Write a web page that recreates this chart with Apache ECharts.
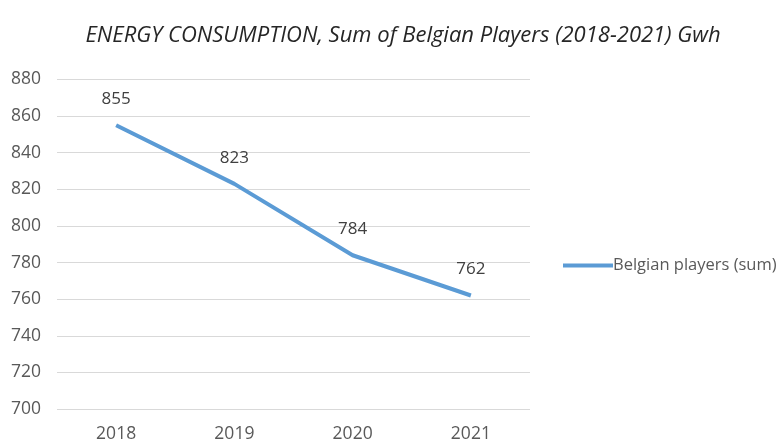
<!DOCTYPE html>
<html><head><meta charset="utf-8">
<script src="https://cdn.jsdelivr.net/npm/echarts@6/dist/echarts.min.js"></script>
<style>html,body{margin:0;padding:0;background:#fff}#c{width:783px;height:443px}</style>
</head><body><div id="c"></div>
<script>
const categories = ['2018', '2019', '2020', '2021'];
const values = [855, 823, 784, 762];
const seriesName = 'Belgian players (sum)';
const titleText = 'ENERGY CONSUMPTION, Sum of Belgian Players (2018-2021) Gwh';

const chart = echarts.init(document.getElementById('c'));
chart.setOption({
  animation: false,
  backgroundColor: '#fff',
  title: {
    text: titleText, left: 398, top: 20, textAlign: 'center',
    textStyle: {fontFamily: 'Open Sans', fontStyle: 'italic', fontWeight: 'normal', fontSize: 22, color: '#262626'}
  },
  legend: {
    data: [seriesName], left: 558, top: 252, itemWidth: 50, itemHeight: 4, itemGap: 0,
    icon: 'rect',
    itemStyle: {color: '#5B9BD5', opacity: 1},
    textStyle: {fontFamily: 'Open Sans', fontSize: 16.5, color: '#595959', padding: [0,0,0,-5]}
  },
  grid: {left: 57, right: 253, top: 79.5, bottom: 33},
  xAxis: {
    type: 'category', data: categories, boundaryGap: true,
    axisLine: {show: false}, axisTick: {show: false},
    axisLabel: {fontFamily: 'Open Sans', fontSize: 17.5, color: '#595959', margin: 16}
  },
  yAxis: {
    type: 'value', min: 700, max: 880, interval: 20,
    axisLine: {show: false}, axisTick: {show: false},
    splitLine: {lineStyle: {color: '#d9d9d9', width: 1}},
    axisLabel: {fontFamily: 'Open Sans', fontSize: 17.5, color: '#595959', margin: 16}
  },
  series: [{
    name: seriesName, type: 'line', data: values,
    symbol: 'circle', symbolSize: 1, showSymbol: true,
    lineStyle: {color: '#5B9BD5', width: 4}, itemStyle: {color: '#5B9BD5', opacity: 0},
    label: {show: true, position: 'top', distance: 17, fontFamily: 'Open Sans', fontSize: 17, color: '#404040', opacity: 1}
  }]
});
</script></body></html>
